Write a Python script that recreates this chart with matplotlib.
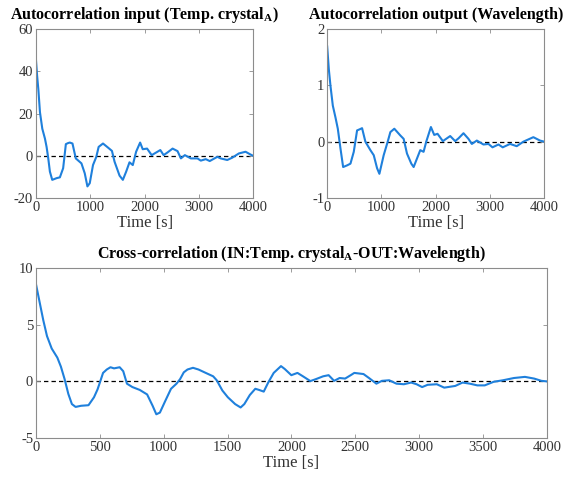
import matplotlib
matplotlib.use("Agg")
import matplotlib.pyplot as plt

plt.rcParams['font.family'] = ['Liberation Serif', 'DejaVu Serif']
plt.rcParams['mathtext.fontset'] = 'custom'
plt.rcParams['mathtext.rm'] = 'Liberation Serif'
plt.rcParams['mathtext.bf'] = 'Liberation Serif:bold'
plt.rcParams['axes.unicode_minus'] = False

# Autocorrelation of input (Temp. crystal A)
t_in = [0, 20, 43, 73, 116, 165, 195, 226, 256, 299, 379, 440, 500, 550, 590, 623, 672,
        733, 837, 898, 947, 990, 1050, 1111, 1154, 1234, 1325, 1399, 1447, 1539, 1600,
        1661, 1722, 1783, 1844, 1918, 1966, 2046, 2131, 2290, 2351, 2424, 2516, 2607,
        2669, 2742, 2852, 2974, 3035, 3127, 3200, 3340, 3401, 3523, 3615, 3737, 3860,
        3951, 4000]
r_in = [45.2, 38.0, 31.5, 20.6, 12.8, 8.1, 4.2, -1.25, -7.5, -11.4, -10.6, -10.2, -5.9,
        5.5, 6.0, 6.25, 5.8, -1.25, -3.6, -8.3, -14.5, -13.0, -4.4, -0.5, 4.2, 5.8, 3.9,
        2.3, -2.8, -9.4, -11.4, -7.5, -3.1, -4.4, 1.9, 6.25, 3.1, 3.4, 0.3, 2.7, 0.3, 1.6,
        3.4, 2.2, -1.25, 0.3, -1.25, -1.25, -2.3, -1.6, -2.5, -0.5, -1.25, -2.0, -0.9,
        1.1, 1.9, 0.6, 0.0]

# Autocorrelation of output (Wavelength)
t_out = [0, 31, 61, 104, 153, 196, 245, 294, 368, 429, 490, 551, 600, 643, 704, 796, 858,
         919, 962, 1041, 1115, 1164, 1237, 1348, 1409, 1470, 1550, 1593, 1654, 1715,
         1776, 1825, 1911, 1972, 2033, 2131, 2266, 2358, 2420, 2511, 2603, 2665, 2757,
         2879, 2971, 3045, 3155, 3234, 3369, 3492, 3614, 3798, 3920, 4000]
r_out = [1.69, 1.28, 0.99, 0.64, 0.43, 0.23, -0.12, -0.45, -0.42, -0.39, -0.18, 0.2,
         0.22, 0.24, 0.0, -0.15, -0.24, -0.47, -0.57, -0.24, 0.0, 0.17, 0.23, 0.11, 0.05,
         -0.21, -0.39, -0.45, -0.3, -0.15, -0.18, 0.0, 0.26, 0.12, 0.14, 0.01, 0.1,
         0.01, 0.06, 0.15, 0.05, -0.04, 0.02, -0.05, -0.04, -0.1, -0.05, -0.1, -0.04,
         -0.08, 0.0, 0.08, 0.02, 0.0]

# Cross-correlation input -> output
t_cc = [0, 30, 57, 86, 123, 167, 195, 224, 253, 281, 310, 353, 411, 454, 482, 503,
        525, 554, 583, 611, 655, 683, 712, 755, 812, 870, 913, 942, 970, 1013, 1057,
        1100, 1128, 1157, 1186, 1229, 1272, 1329, 1387, 1415, 1459, 1502, 1559, 1602,
        1631, 1674, 1717, 1746, 1783, 1818, 1861, 1918, 1947, 1999, 2047, 2090, 2148,
        2191, 2248, 2291, 2334, 2377, 2420, 2464, 2492, 2564, 2607, 2665, 2708, 2765,
        2822, 2880, 2937, 2980, 3023, 3066, 3138, 3196, 3282, 3340, 3397, 3455, 3513,
        3584, 3656, 3742, 3828, 3900, 3957, 4000]
r_cc = [8.57, 6.9, 5.4, 4.0, 2.9, 2.1, 1.3, 0.2, -1.1, -2.0, -2.25, -2.15, -2.1, -1.4,
        -0.7, 0.0, 0.75, 1.05, 1.25, 1.15, 1.25, 0.9, -0.2, -0.5, -0.75, -1.15, -2.15,
        -2.9, -2.75, -1.7, -0.65, -0.2, 0.2, 0.8, 1.05, 1.2, 1.05, 0.75, 0.45, 0.1,
        -0.8, -1.4, -2.0, -2.3, -2.0, -1.2, -0.65, -0.75, -0.9, -0.1, 0.75, 1.35, 1.1,
        0.55, 0.75, 0.45, 0.03, 0.2, 0.45, 0.55, 0.05, 0.3, 0.25, 0.55, 0.75, 0.65,
        0.3, -0.2, 0.05, 0.1, -0.2, -0.25, -0.1, -0.25, -0.5, -0.3, -0.25, -0.55, -0.4,
        -0.1, -0.2, -0.35, -0.35, -0.03, 0.1, 0.3, 0.4, 0.25, 0.05, 0.0]

line_color = '#1f80dc'
text_color = '#333333'
spine_color = '#8c8c8c'


def style_axes(ax, xticks, yticks, ylim):
    ax.set_xlim(0, 4000)
    ax.set_ylim(*ylim)
    ax.set_xticks(xticks)
    ax.set_yticks(yticks)
    ax.tick_params(direction='in', top=True, right=True, length=3, width=0.6,
                   color=spine_color, labelcolor=text_color, labelsize=10.5, pad=2)
    for s in ax.spines.values():
        s.set_color(spine_color)
        s.set_linewidth(0.8)
    ax.axhline(0, color='black', linestyle='--', linewidth=0.9, dashes=(3.5, 2.5), zorder=1)


fig = plt.figure(figsize=(5.76, 4.83), dpi=100)

ax1 = fig.add_axes([0.0625, 0.590, 0.377, 0.350])
ax1.plot(t_in, r_in, color=line_color, linewidth=1.5, zorder=2, solid_joinstyle='round')
style_axes(ax1, [0, 1000, 2000, 3000, 4000], [-20, 0, 20, 40, 60], (-20, 60))
ax1.set_title(r'Autocorrelation input (Temp. crystal$_{\mathbf{A}}$)',
              fontsize=11.5, fontweight='bold', pad=7)
ax1.set_xlabel('Time [s]', fontsize=12, color=text_color, labelpad=1)

ax2 = fig.add_axes([0.568, 0.590, 0.377, 0.350])
ax2.plot(t_out, r_out, color=line_color, linewidth=1.5, zorder=2, solid_joinstyle='round')
style_axes(ax2, [0, 1000, 2000, 3000, 4000], [-1, 0, 1, 2], (-1, 2))
ax2.set_title('Autocorrelation output (Wavelength)', fontsize=11.5,
              fontweight='bold', pad=7)
ax2.set_xlabel('Time [s]', fontsize=12, color=text_color, labelpad=1)

ax3 = fig.add_axes([0.0625, 0.093, 0.887, 0.352])
ax3.plot(t_cc, r_cc, color=line_color, linewidth=1.5, zorder=2, solid_joinstyle='round')
style_axes(ax3, list(range(0, 4001, 500)), [-5, 0, 5, 10], (-5, 10))
ax3.set_title(r'Cross-correlation (IN:Temp. crystal$_{\mathbf{A}}$-OUT:Wavelength)',
              fontsize=11.5, fontweight='bold', pad=7)
ax3.set_xlabel('Time [s]', fontsize=12, color=text_color, labelpad=1)

fig.savefig('out.png', dpi=100)
